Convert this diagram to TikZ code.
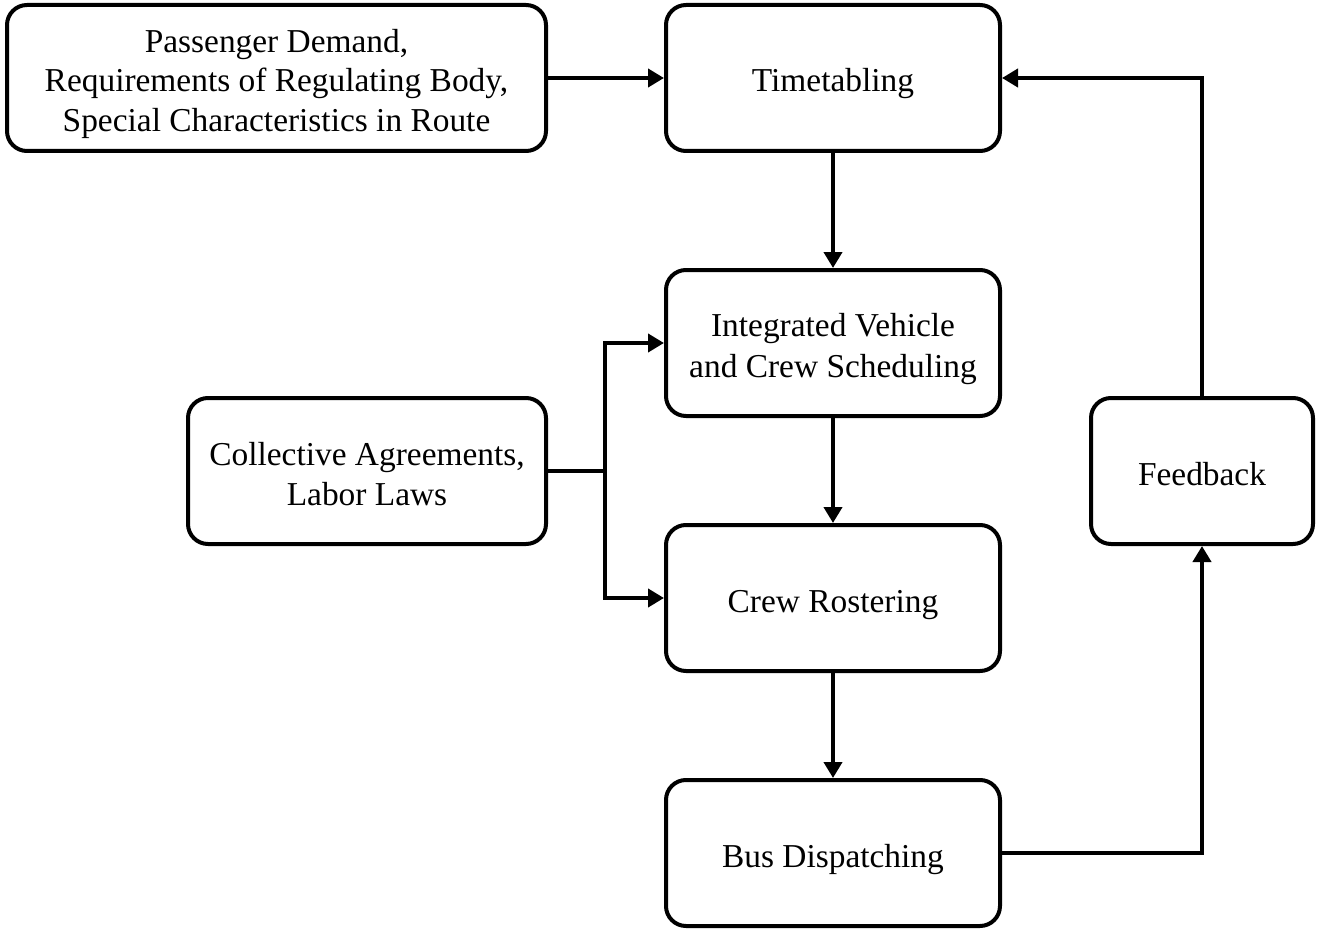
\documentclass[tikz,border=0pt]{standalone}
\usepackage{fontspec}
\setmainfont{Liberation Serif}
\usetikzlibrary{arrows.meta}
\newcommand{\lowtext}[1]{\raisebox{-3pt}[\height][\depth]{\begin{tabular}{@{}c@{}}#1\end{tabular}}}
\begin{document}
\begin{tikzpicture}[x=0.5pt,y=-0.5pt,
  box/.style={draw, line width=2pt, rounded corners=10pt, align=center,
    font=\fontsize{16.7}{20}\selectfont, inner sep=0pt},
  flow/.style={line width=2pt, -{Triangle[length=8pt,width=9pt]}},
  plain/.style={line width=2pt}]
\useasboundingbox (0,0) rectangle (1318,931);
\node[box, minimum width=269.5pt, minimum height=73pt] (pass) at (276.5,78) {\lowtext{Passenger Demand,\\Requirements of Regulating Body,\\Special Characteristics in Route}};
\node[box, minimum width=167pt, minimum height=73pt] (time) at (833,78) {\lowtext{Timetabling}};
\node[box, minimum width=167pt, minimum height=73pt] (integ) at (833,343) {\lowtext{Integrated Vehicle\\and Crew Scheduling}};
\node[box, minimum width=167pt, minimum height=73pt] (crew) at (833,598) {\lowtext{Crew Rostering}};
\node[box, minimum width=167pt, minimum height=73pt] (bus) at (833,853) {\lowtext{Bus Dispatching}};
\node[box, minimum width=179pt, minimum height=73pt] (coll) at (367,471) {\lowtext{Collective Agreements,\\Labor Laws}};
\node[box, minimum width=111pt, minimum height=73pt] (feed) at (1202,471) {\lowtext{Feedback}};
\coordinate (j) at (605,471);
\draw[flow] (pass.east) -- (time.west);
\draw[flow] (time.south) -- (integ.north);
\draw[flow] (integ.south) -- (crew.north);
\draw[flow] (crew.south) -- (bus.north);
\draw[plain] (coll.east) -- (j);
\draw[flow] (j) |- (integ.west);
\draw[flow] (j) |- (crew.west);
\draw[flow] (bus.east) -| (feed.south);
\draw[flow] (feed.north) |- (time.east);
\end{tikzpicture}
\end{document}
